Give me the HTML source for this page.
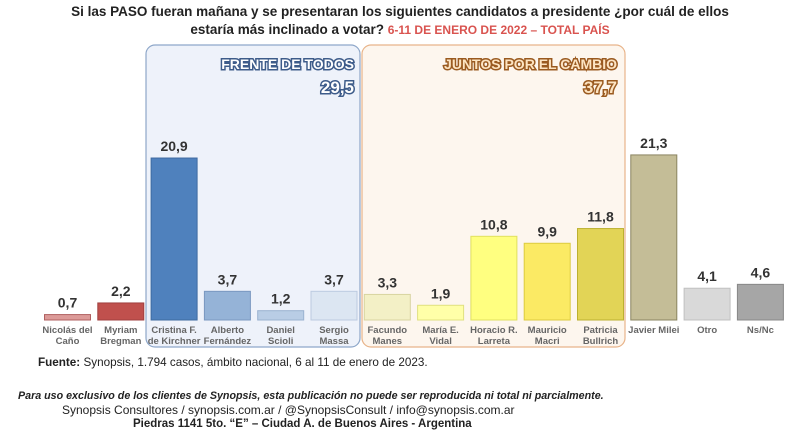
<!DOCTYPE html>
<html><head><meta charset="utf-8"><style>
body{margin:0;width:800px;height:443px;background:#fff;font-family:"Liberation Sans",sans-serif;overflow:hidden;position:relative}
.t{position:absolute;white-space:nowrap}
</style></head><body>
<div class="t" style="left:0;width:800px;text-align:center;top:3px;font-size:13.5px;font-weight:bold;color:#222;line-height:18px">Si las PASO fueran mañana y se presentaran los siguientes candidatos a presidente ¿por cuál de ellos<br>estaría más inclinado a votar? <span style="color:#d9534f;font-size:12px">6-11 DE ENERO DE 2022 – TOTAL PAÍS</span></div>
<svg id="c" width="800" height="443" style="position:absolute;left:0;top:0">
<rect x="146" y="45" width="214" height="302" rx="9" fill="#eef2fa" stroke="#8ea7c9" stroke-width="1.2"/>
<rect x="362" y="45" width="263" height="302" rx="9" fill="#fdf6ee" stroke="#e8b48a" stroke-width="1.2"/>
<text x="354" y="69" text-anchor="end" font-size="14" font-weight="bold" fill="#fff" stroke="#3e5c8a" stroke-width="3" paint-order="stroke" font-family="Liberation Sans">FRENTE DE TODOS</text>
<text x="354" y="93" text-anchor="end" font-size="17" font-weight="bold" fill="#fff" stroke="#3e5c8a" stroke-width="3" paint-order="stroke" font-family="Liberation Sans">29,5</text>
<text x="617" y="69" text-anchor="end" font-size="14" font-weight="bold" fill="#fde4c2" stroke="#9a5a20" stroke-width="3" paint-order="stroke" font-family="Liberation Sans">JUNTOS POR EL CAMBIO</text>
<text x="617" y="93" text-anchor="end" font-size="17" font-weight="bold" fill="#fde4c2" stroke="#9a5a20" stroke-width="3" paint-order="stroke" font-family="Liberation Sans">37,7</text>
<g id="bars"></g>
</svg>
<div class="t" style="left:38px;top:356px;font-size:11.7px;color:#222"><b>Fuente:</b> Synopsis, 1.794 casos, ámbito nacional, 6 al 11 de enero de 2023.</div>
<div class="t" style="left:18px;top:390px;font-size:10.7px;font-weight:bold;font-style:italic;color:#222">Para uso exclusivo de los clientes de Synopsis, esta publicación no puede ser reproducida ni total ni parcialmente.</div>
<div class="t" style="left:62px;top:403px;font-size:12px;color:#222">Synopsis Consultores / synopsis.com.ar / @SynopsisConsult / info@synopsis.com.ar</div>
<div class="t" style="left:133px;top:418px;font-size:11.5px;font-weight:bold;color:#222">Piedras 1141 5to. “E” – Ciudad A. de Buenos Aires - Argentina</div>
<script>
const names=[["Nicolás del","Caño"],["Myriam","Bregman"],["Cristina F.","de Kirchner"],["Alberto","Fernández"],["Daniel","Scioli"],["Sergio","Massa"],["Facundo","Manes"],["María E.","Vidal"],["Horacio R.","Larreta"],["Mauricio","Macri"],["Patricia","Bullrich"],["Javier Milei",""],["Otro",""],["Ns/Nc",""]];
const values=[0.7,2.2,20.9,3.7,1.2,3.7,3.3,1.9,10.8,9.9,11.8,21.3,4.1,4.6];
const colors=["#dc9a98","#c0504d","#4f81bd","#95b3d7","#b9cde5","#dce6f2","#f3f0c6","#ffffa8","#ffff80","#fbea64","#e2d456","#c4bd97","#d9d9d9","#a6a6a6"];
const strokes=["#b06060","#a04040","#3e6aa0","#7a98c0","#9ab2d0","#bccbe0","#d8d4a0","#e0e080","#e0e060","#dccb40","#bcb030","#8a8460","#c0c0c0","#888"];
const base=320,k=7.75,x0=44.5,pitch=53.3,bw=46;
const y=v=>base-v*k, x=i=>x0+i*pitch;
const g=document.getElementById('bars'),NS='http://www.w3.org/2000/svg';
values.forEach((v,i)=>{
 const r=document.createElementNS(NS,'rect');
 
 
 r.setAttribute('x',x(i));r.setAttribute('y',y(v));r.setAttribute('width',bw);r.setAttribute('height',v*k);
 r.setAttribute('fill',colors[i]);r.setAttribute('stroke',strokes[i]);r.setAttribute('stroke-width','1');
 g.appendChild(r);
 const t=document.createElementNS(NS,'text');
 
 
 t.setAttribute('x',x(i)+bw/2);t.setAttribute('y',y(v)-7);t.setAttribute('text-anchor','middle');
 t.setAttribute('font-size','14');t.setAttribute('font-weight','bold');t.setAttribute('fill','#333');t.setAttribute('font-family','Liberation Sans');
 t.textContent=String(v).replace('.',',');g.appendChild(t);
 names[i].forEach((n,j)=>{if(!n)return;
  const l=document.createElementNS(NS,'text');
  
  
  l.setAttribute('x',x(i)+bw/2);l.setAttribute('y',333+j*11);l.setAttribute('text-anchor','middle');
  l.setAttribute('font-size','9.5');l.setAttribute('font-weight','bold');l.setAttribute('fill','#666');l.setAttribute('font-family','Liberation Sans');
  l.textContent=n;g.appendChild(l);});
});
</script>
</body></html>
